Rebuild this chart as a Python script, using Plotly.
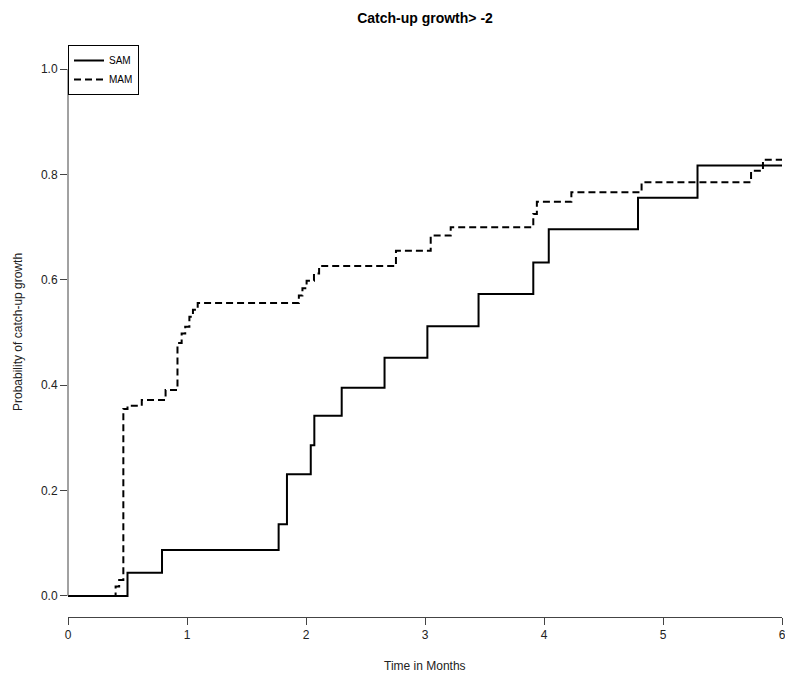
import plotly.graph_objects as go

# Kaplan-Meier style cumulative curves (time in months, probability)
sam_time = [0, 0.50, 0.79, 1.77, 1.84, 2.04, 2.07, 2.30, 2.66, 3.02, 3.45,
            3.91, 4.04, 4.79, 5.29, 6.0]
sam_prob = [0, 0.044, 0.087, 0.136, 0.231, 0.286, 0.342, 0.395, 0.452, 0.512,
            0.573, 0.633, 0.696, 0.756, 0.817, 0.817]

mam_time = [0, 0.40, 0.43, 0.465, 0.50, 0.62, 0.82, 0.92, 0.955, 0.985, 1.02,
            1.05, 1.09, 1.94, 1.97, 2.005, 2.067, 2.11, 2.756, 3.048, 3.216,
            3.91, 3.94, 4.23, 4.82, 5.74, 5.84, 6.0]
mam_prob = [0, 0.018, 0.030, 0.355, 0.361, 0.372, 0.391, 0.480, 0.498, 0.511,
            0.530, 0.543, 0.556, 0.570, 0.584, 0.598, 0.612, 0.626, 0.655,
            0.684, 0.700, 0.725, 0.748, 0.766, 0.785, 0.807, 0.828, 0.828]

y_ticks = [0, 0.2, 0.4, 0.6, 0.8, 1.0]
x_ticks = [0, 1, 2, 3, 4, 5, 6]

FONT = "Liberation Sans, Arial, sans-serif"

fig = go.Figure()
fig.add_trace(go.Scatter(
    x=sam_time, y=sam_prob, mode="lines", name="SAM",
    line=dict(shape="hv", color="black", width=2),
))
fig.add_trace(go.Scatter(
    x=mam_time, y=mam_prob, mode="lines", name="MAM",
    line=dict(shape="hv", color="black", width=2, dash="7px,4px"),
))

# y axis line only spans the tick range, like base R
fig.add_shape(type="line", xref="paper", yref="y", x0=0, x1=0, y0=0, y1=1,
              line=dict(color="#444", width=1))

fig.update_layout(
    width=785, height=676,
    margin=dict(l=68, r=3, t=48, b=59),
    paper_bgcolor="white", plot_bgcolor="white",
    font=dict(family=FONT, size=12, color="#222"),
    title=dict(text="<b>Catch-up growth> -2</b>", x=425 / 785, xanchor="center",
               y=1 - 18 / 676, yanchor="middle",
               font=dict(size=14, color="black")),
    showlegend=True,
    legend=dict(x=0, y=(617 - 45) / 569, xanchor="left", yanchor="top",
                bordercolor="black", borderwidth=1, bgcolor="white",
                font=dict(size=10, color="black"), itemwidth=30,
                tracegroupgap=0),
    annotations=[
        dict(text="Time in Months", xref="paper", yref="paper",
             x=0.5, y=-(666 - 617) / 569, xanchor="center", yanchor="middle",
             showarrow=False, font=dict(size=12, color="#222")),
        dict(text="Probability of catch-up growth", xref="paper", yref="paper",
             x=-(68 - 18) / 714, y=(617 - 332) / 569, textangle=-90,
             xanchor="center", yanchor="middle",
             showarrow=False, font=dict(size=12, color="#222")),
    ],
)
fig.update_xaxes(
    range=[0, 6], tickvals=x_ticks, ticks="outside", ticklen=7,
    tickcolor="#444", showline=True, linecolor="#444", linewidth=1,
    showgrid=False, zeroline=False, automargin=False,
    ticklabeloverflow="allow",
)
fig.update_yaxes(
    range=[-0.04, 1.04], tickvals=y_ticks, tickformat=".1f", ticks="outside",
    ticklen=7, tickcolor="#444", showline=False, showgrid=False,
    zeroline=False, automargin=False,
)

# drop the default body margin so the figure sits at the page's top-left
fig.write_html("out.html", config={"displayModeBar": False},
               post_script="document.body.style.margin='0';")
